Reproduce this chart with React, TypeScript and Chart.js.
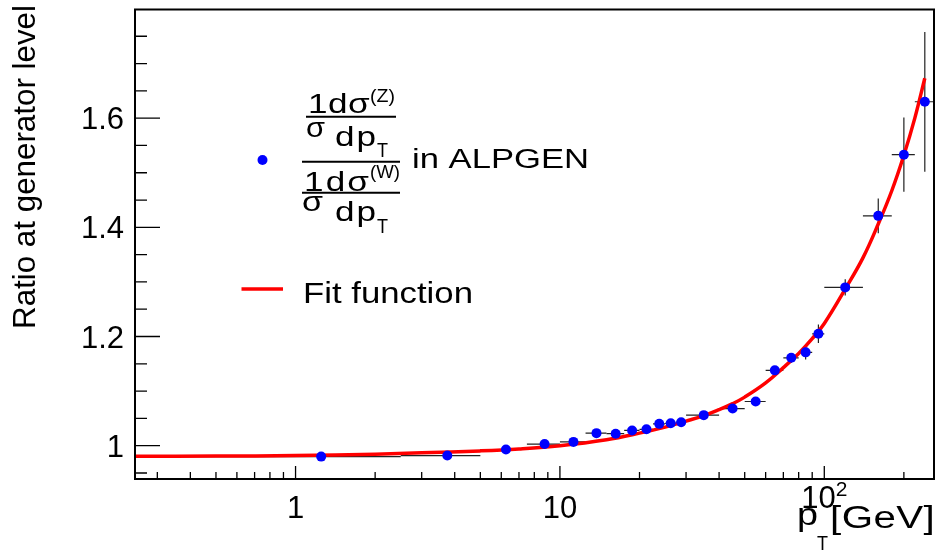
import React, { useEffect, useRef } from 'react';
import { Chart, registerables } from 'chart.js';

Chart.register(...registerables);

// ---- data ----
const binLow = [0, 2.5, 5, 7.5, 10, 12.5, 15, 17.5, 20, 22.5, 25, 27.5, 30, 40, 50, 60, 70, 80, 90, 100, 140, 180, 220];
const binHigh = [2.5, 5, 7.5, 10, 12.5, 15, 17.5, 20, 22.5, 25, 27.5, 30, 40, 50, 60, 70, 80, 90, 100, 140, 180, 220, 260];
const ratio = [0.980, 0.982, 0.993, 1.003, 1.007, 1.023, 1.022, 1.028, 1.030, 1.040, 1.041, 1.043, 1.056, 1.068, 1.081, 1.138, 1.161, 1.171, 1.205, 1.290, 1.421, 1.533, 1.630];
const ratioErr = [0.003, 0.003, 0.003, 0.003, 0.003, 0.003, 0.003, 0.003, 0.003, 0.003, 0.003, 0.003, 0.003, 0.004, 0.004, 0.006, 0.009, 0.013, 0.017, 0.015, 0.032, 0.068, 0.128];

const fitPt = [0.247, 0.5, 1, 2, 3, 5, 7, 10, 15, 20, 25, 30, 35, 40, 45, 50, 60, 70, 80, 90, 100, 120, 140, 160, 180, 200, 220, 240];
const fitRatio = [0.9805, 0.981, 0.982, 0.9845, 0.987, 0.9905, 0.994, 1.000, 1.011, 1.023, 1.034, 1.045, 1.055, 1.066, 1.077, 1.089, 1.115, 1.143, 1.169, 1.196, 1.224, 1.287, 1.344, 1.406, 1.467, 1.532, 1.600, 1.673];

const xMin = 0.247;
const xMax = 260;
const yMin = 0.939;
const yMax = 1.799;

const yMajorTicks = [1.0, 1.2, 1.4, 1.6];
const yTickLabels = ['1', '1.2', '1.4', '1.6'];
const xMajorTicks = [1, 10, 100];
const xTickLabels = ['1', '10', '10^2'];

const FONT = '"Liberation Sans", Arial, Helvetica, sans-serif';

// draws text starting at `left`, widened to `targetW` (horizontal scale, remainder as letter spacing)
function put(ctx: CanvasRenderingContext2D, s: string, left: number, baseline: number, size: number, targetW?: number) {
  ctx.save();
  ctx.font = `${size}px ${FONT}`;
  ctx.textAlign = 'left';
  ctx.textBaseline = 'alphabetic';
  (ctx as any).letterSpacing = '0px';
  const w = ctx.measureText(s).width;
  let sx = 1;
  let ls = 0;
  if (targetW) {
    if (s.length === 1) {
      sx = targetW / w;
    } else {
      sx = Math.min(targetW / w, 1.3);
      ls = (targetW - w * sx) / (s.length - 0.5) / sx;
    }
  }
  (ctx as any).letterSpacing = `${ls}px`;
  ctx.translate(left, baseline);
  ctx.scale(sx, 1);
  ctx.fillText(s, 0, 0);
  ctx.restore();
}

function hline(ctx: CanvasRenderingContext2D, x0: number, x1: number, y: number, lw: number, color = '#000') {
  ctx.save();
  ctx.strokeStyle = color;
  ctx.lineWidth = lw;
  ctx.beginPath();
  ctx.moveTo(x0, y);
  ctx.lineTo(x1, y);
  ctx.stroke();
  ctx.restore();
}

const errorBars = {
  id: 'errorBars',
  beforeDatasetsDraw(chart: any) {
    const ctx: CanvasRenderingContext2D = chart.ctx;
    const xs = chart.scales.x;
    const ys = chart.scales.y;
    ctx.save();
    ctx.strokeStyle = '#222';
    ctx.lineWidth = 1.2;
    for (let i = 0; i < ratio.length; i++) {
      const c = (binLow[i] + binHigh[i]) / 2;
      const x0 = xs.getPixelForValue(Math.max(binLow[i], xMin));
      const x1 = xs.getPixelForValue(Math.min(binHigh[i], xMax));
      const xc = xs.getPixelForValue(c);
      const yc = ys.getPixelForValue(ratio[i]);
      const yt = ys.getPixelForValue(ratio[i] + ratioErr[i]);
      const yb = ys.getPixelForValue(ratio[i] - ratioErr[i]);
      ctx.beginPath();
      ctx.moveTo(x0, yc);
      ctx.lineTo(x1, yc);
      ctx.moveTo(xc, yt);
      ctx.lineTo(xc, yb);
      ctx.stroke();
    }
    ctx.restore();
  },
};

const decorations = {
  id: 'decorations',
  afterDraw(chart: any) {
    const ctx: CanvasRenderingContext2D = chart.ctx;
    const xs = chart.scales.x;
    const ys = chart.scales.y;
    const a = chart.chartArea;
    ctx.save();
    ctx.fillStyle = '#000';
    ctx.strokeStyle = '#000';

    // ticks (inward, left and bottom)
    ctx.lineWidth = 1.3;
    ctx.beginPath();
    for (let k = 19; k <= 35; k++) {
      const v = k * 0.05;
      if (v < yMin || v > yMax) continue;
      const major = yMajorTicks.some((t) => Math.abs(t - v) < 1e-6);
      const p = ys.getPixelForValue(v);
      ctx.moveTo(a.left, p);
      ctx.lineTo(a.left + (major ? 25 : 12), p);
    }
    for (const dec of [0.1, 1, 10, 100]) {
      for (let m = 1; m <= 9; m++) {
        const v = dec * m;
        if (v < xMin || v > xMax) continue;
        const p = xs.getPixelForValue(v);
        ctx.moveTo(p, a.bottom);
        ctx.lineTo(p, a.bottom - (m === 1 ? 13 : 7));
      }
    }
    ctx.stroke();

    // frame
    ctx.lineWidth = 2;
    ctx.strokeRect(a.left, a.top, a.right - a.left, a.bottom - a.top);

    // y tick labels
    ctx.font = `31px ${FONT}`;
    ctx.textAlign = 'right';
    ctx.textBaseline = 'alphabetic';
    yMajorTicks.forEach((v, i) => {
      ctx.fillText(yTickLabels[i], 124, ys.getPixelForValue(v) + 11);
    });

    // x tick labels
    xMajorTicks.forEach((v, i) => {
      const p = xs.getPixelForValue(v);
      const lab = xTickLabels[i];
      if (lab.includes('^')) {
        const [base, exp] = lab.split('^');
        ctx.font = `31px ${FONT}`;
        const wb = ctx.measureText(base).width;
        ctx.font = `21px ${FONT}`;
        const we = ctx.measureText(exp).width;
        const left = p - (wb + we) / 2;
        ctx.textAlign = 'left';
        ctx.font = `31px ${FONT}`;
        ctx.fillText(base, left, 508);
        ctx.font = `21px ${FONT}`;
        ctx.fillText(exp, left + wb, 496);
      } else {
        ctx.textAlign = 'center';
        ctx.font = `31px ${FONT}`;
        ctx.fillText(lab, p, 518);
      }
    });

    // y axis title (rotated)
    ctx.save();
    ctx.font = `31px ${FONT}`;
    const tw = ctx.measureText('Ratio at generator level').width;
    ctx.translate(35, 329);
    ctx.rotate(-Math.PI / 2);
    ctx.scale(324 / tw, 1);
    ctx.textAlign = 'left';
    ctx.fillText('Ratio at generator level', 0, 0);
    ctx.restore();

    // x axis title
    put(ctx, 'p', 797, 525, 31, 21);
    put(ctx, 'T', 817, 550, 21, 11);
    put(ctx, '[GeV]', 830, 528, 31, 105);

    // legend: marker entry
    ctx.fillStyle = '#0000ff';
    ctx.beginPath();
    ctx.arc(262.5, 160, 5, 0, Math.PI * 2);
    ctx.fill();
    ctx.fillStyle = '#000';

    put(ctx, '1dσ', 308, 113, 27, 62);
    put(ctx, '(Z)', 370, 102, 18, 25);
    hline(ctx, 306, 396, 116.7, 2);
    put(ctx, 'σ', 306, 136.5, 28, 19);
    put(ctx, 'dp', 335, 145.5, 27, 42);
    put(ctx, 'T', 377, 156.5, 20, 11);

    hline(ctx, 302, 400, 161.7, 2);

    put(ctx, '1dσ', 304, 191, 27, 66);
    put(ctx, '(W)', 370, 177.5, 18, 30);
    hline(ctx, 302, 400, 192.7, 2);
    put(ctx, 'σ', 302, 211, 28, 21);
    put(ctx, 'dp', 335, 220.5, 27, 42);
    put(ctx, 'T', 377, 233, 20, 11);

    put(ctx, 'in ALPGEN', 412, 167.5, 27, 177);

    // legend: fit entry
    hline(ctx, 241.5, 283, 289, 3.5, '#ff0000');
    put(ctx, 'Fit function', 303, 303, 30, 170);

    ctx.restore();
  },
};

export default function App() {
  const ref = useRef<HTMLCanvasElement | null>(null);
  useEffect(() => {
    if (!ref.current) return;
    const points = ratio.map((r, i) => ({ x: (binLow[i] + binHigh[i]) / 2, y: r }));
    const fit = fitPt.map((x, i) => ({ x, y: fitRatio[i] }));
    const chart = new Chart(ref.current, {
      type: 'scatter',
      data: {
        datasets: [
          {
            label: 'ratio',
            data: points,
            backgroundColor: '#0000ff',
            borderColor: '#0000ff',
            borderWidth: 0,
            pointRadius: 5,
            order: 0,
          } as any,
          {
            label: 'fit',
            type: 'line',
            data: fit,
            borderColor: '#ff0000',
            borderWidth: 3.5,
            pointRadius: 0,
            tension: 0.4,
            fill: false,
            order: 1,
          } as any,
        ],
      },
      options: {
        responsive: false,
        animation: false,
        devicePixelRatio: 1,
        layout: { padding: { left: 135, right: 4, top: 9.5, bottom: 74 } },
        plugins: { legend: { display: false }, tooltip: { enabled: false } },
        events: [],
        scales: {
          x: { type: 'logarithmic', min: xMin, max: xMax, display: false },
          y: { type: 'linear', min: yMin, max: yMax, display: false },
        },
      },
      plugins: [errorBars, decorations],
    });
    return () => chart.destroy();
  }, []);
  return (
    <div style={{ position: 'absolute', left: 0, top: 0, width: 939, height: 553, background: '#fff' }}>
      <canvas ref={ref} width={939} height={553} />
    </div>
  );
}
